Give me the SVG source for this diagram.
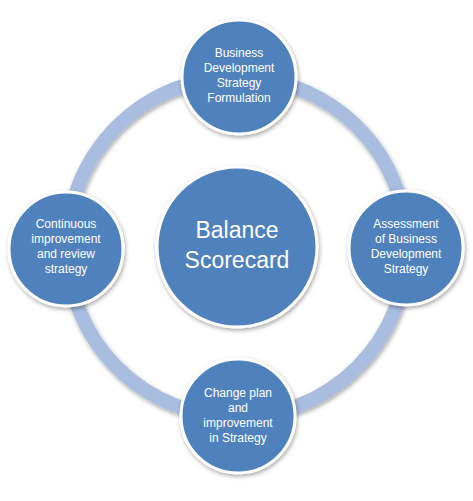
<svg xmlns="http://www.w3.org/2000/svg" width="473" height="501" viewBox="0 0 473 501">
<defs>
<filter id="sh" x="-20%" y="-20%" width="140%" height="140%">
<feDropShadow dx="1" dy="2" stdDeviation="2" flood-color="#000" flood-opacity="0.35"/>
</filter>
<style>
.node{fill:#4f81bd;stroke:#ffffff;stroke-width:3;filter:url(#sh)}
.t{font-family:"Liberation Sans",Arial,sans-serif;font-size:12px;fill:#ffffff;text-anchor:middle}
.big{font-family:"Liberation Sans",Arial,sans-serif;font-size:23px;fill:#ffffff;text-anchor:middle}
.ring{fill:none;stroke:#a8bddf;stroke-width:14;filter:url(#sh)}
</style>
</defs>
<rect width="473" height="501" fill="#ffffff"/>
<g id="connectors">
<circle class="ring" cx="237" cy="247" r="170"/>
</g>
<g id="center">
<circle class="node" cx="237" cy="247" r="80"/>
<text class="big" x="237" y="238">Balance</text>
<text class="big" x="237" y="268">Scorecard</text>
</g>
<g id="top">
<circle class="node" cx="239" cy="77" r="57"/>
<text class="t" x="239" y="57">Business</text>
<text class="t" x="239" y="72">Development</text>
<text class="t" x="239" y="87">Strategy</text>
<text class="t" x="239" y="102">Formulation</text>
</g>
<g id="right">
<circle class="node" cx="406" cy="248" r="57"/>
<text class="t" x="406" y="228">Assessment</text>
<text class="t" x="406" y="243">of Business</text>
<text class="t" x="406" y="258">Development</text>
<text class="t" x="406" y="273">Strategy</text>
</g>
<g id="bottom">
<circle class="node" cx="238" cy="416" r="57"/>
<text class="t" x="238" y="397">Change plan</text>
<text class="t" x="238" y="412">and</text>
<text class="t" x="238" y="427">improvement</text>
<text class="t" x="238" y="442">in Strategy</text>
</g>
<g id="left">
<circle class="node" cx="66" cy="249" r="57"/>
<text class="t" x="66" y="228">Continuous</text>
<text class="t" x="66" y="243">improvement</text>
<text class="t" x="66" y="258">and review</text>
<text class="t" x="66" y="273">strategy</text>
</g>
</svg>
